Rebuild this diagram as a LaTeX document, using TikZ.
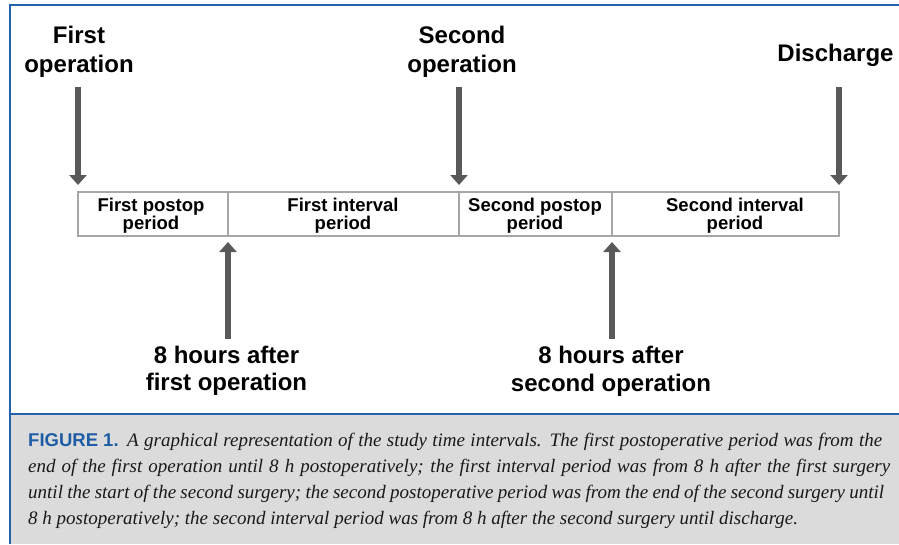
\documentclass[tikz,border=0pt]{standalone}
\usepackage{fontspec}
\setmainfont{Liberation Sans}
\newfontfamily\capserif{Liberation Serif}
\usetikzlibrary{arrows.meta}
\definecolor{frameblue}{HTML}{2462AE}
\definecolor{figblue}{HTML}{1F5CA6}
\definecolor{capbg}{HTML}{DBDBDB}
\definecolor{arrowgray}{HTML}{595959}
\definecolor{cellgray}{HTML}{A6A6A6}
\begin{document}
\begin{tikzpicture}[x=1pt,y=-1pt,
  bigarrow/.style={draw=arrowgray, line width=6pt, -{Triangle[width=17pt,length=10pt]}},
  cell/.style={draw=cellgray, line width=1.5pt, minimum height=44pt, inner sep=0pt, outer sep=0pt},
  celltext/.style={font=\fontsize{18.5}{18}\selectfont\bfseries, align=center, inner sep=0pt},
  biglabel/.style={font=\fontsize{24}{29}\selectfont\bfseries, align=center, inner sep=0pt},
  lowlabel/.style={font=\fontsize{24}{27.5}\selectfont\bfseries, align=center, inner sep=0pt},
  capline/.style={font=\capserif\itshape\fontsize{19}{26}\selectfont, anchor=base west, inner sep=0pt, text=black!90},
  figlabel/.style={font=\bfseries\fontsize{18.5}{26}\selectfont, anchor=base west, inner sep=0pt, text=figblue},
]
\useasboundingbox (0,0) rectangle (899,544);
% frame and caption panel
\fill[capbg] (10,414) rectangle (899,544);
\draw[frameblue, line width=2pt] (9.5,544) -- (9.5,5) -- (899,5);
\draw[frameblue, line width=2pt] (9.5,414) -- (899,414);

% timeline cells
\node[cell, minimum width=150pt] (c1) at (153,214) {};
\node[cell, minimum width=231pt] (c2) at (343.5,214) {};
\node[cell, minimum width=153pt] (c3) at (535.5,214) {};
\node[cell, minimum width=227pt] (c4) at (725.5,214) {};
\node[celltext] (t1) at (151,216) {First postop\\period};
\node[celltext] (t2) at (343,216) {First interval\\period};
\node[celltext] (t3) at (535,216) {Second postop\\period};
\node[celltext] (t4) at (735,216) {Second interval\\period};

% top labels
\node[biglabel] (l1) at (79,51.3) {First\\operation};
\node[biglabel] (l2) at (462,51.3) {Second\\operation};
\node[biglabel] (l3) at (835.5,55.8) {Discharge};

% bottom labels
\node[lowlabel] (l4) at (226.5,371) {8 hours after\\first operation};
\node[lowlabel] (l5) at (611,371.5) {8 hours after\\second operation};

% arrows
\coordinate (s1) at (78,87);
\coordinate (s2) at (459,87);
\coordinate (s3) at (839,87);
\coordinate (b1) at (228,339);
\coordinate (b2) at (612,339);
\draw[bigarrow] (s1) -- ([yshift=7pt]c1.north west);
\draw[bigarrow] (s2) -- ([yshift=7pt]c3.north west);
\draw[bigarrow] (s3) -- ([yshift=7pt]c4.north east);
\draw[bigarrow] (b1) -- ([yshift=-6pt]c1.south east);
\draw[bigarrow] (b2) -- ([yshift=-6pt]c3.south east);

% caption
\node[figlabel] (fig) at (28,446.5) {FIGURE 1.};
\node[capline] (cap1) at (127,446.5) {\makebox[755pt][s]{A graphical representation of the study time intervals. The first postoperative period was from the}};
\node[capline] (cap2) at (28,472.5) {\makebox[862pt][s]{end of the first operation until 8 h postoperatively; the first interval period was from 8 h after the first surgery}};
\node[capline] (cap3) at (28,498.5) {\makebox[856pt][s]{until the start of the second surgery; the second postoperative period was from the end of the second surgery until}};
\node[capline] (cap4) at (28,524.5) {8 h postoperatively; the second interval period was from 8 h after the second surgery until discharge.};
\end{tikzpicture}
\end{document}
